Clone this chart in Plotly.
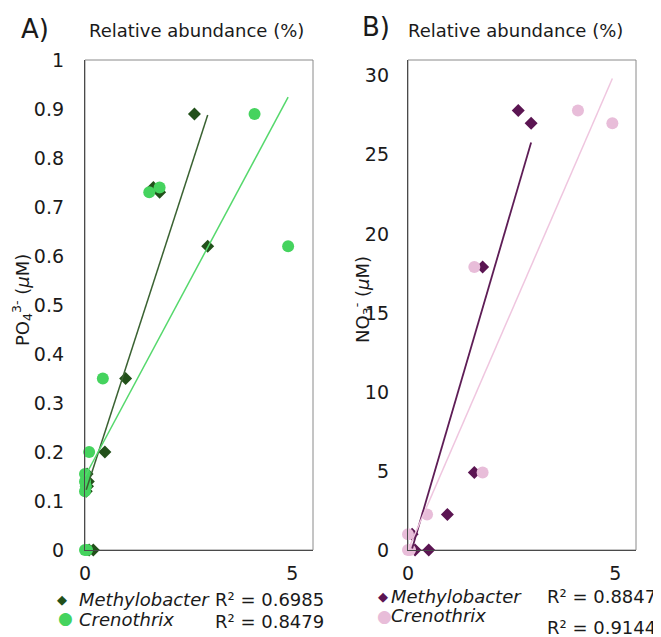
import plotly.graph_objects as go

# ---------------- data ----------------
# Panel A: phosphate vs relative abundance
po4_values = [0.89, 0.74, 0.73, 0.62, 0.35, 0.20, 0.155, 0.14, 0.13, 0.12, 0.0, 0.0]
a_methylobacter = [2.64, 1.65, 1.80, 2.96, 0.98, 0.48, 0.05, 0.08, 0.06, 0.03, 0.10, 0.20]
a_crenothrix = [4.09, 1.80, 1.55, 4.90, 0.43, 0.10, 0.00, 0.00, 0.02, 0.00, 0.00, 0.05]

# Panel B: nitrate vs relative abundance
no3_values = [27.8, 27.0, 17.9, 4.9, 2.25, 1.0, 0.0, 0.0]
b_methylobacter = [2.66, 2.97, 1.80, 1.60, 0.95, 0.10, 0.17, 0.50]
b_crenothrix = [4.10, 4.93, 1.60, 1.80, 0.46, 0.00, 0.00, 0.05]

# Linear trendlines (slope, intercept)
a_trend_methylobacter = [0.261, 0.115]
a_trend_crenothrix = [0.158, 0.150]
b_trend_methylobacter = [8.95, -0.80]
b_trend_crenothrix = [6.05, 0.00]

r2_labels_a = ["R² = 0.6985", "R² = 0.8479"]
r2_labels_b = ["R² = 0.8847", "R² = 0.9144"]
series_names = ["Methylobacter", "Crenothrix"]

x_tickvals = [0, 5]
x_ticktext = ["0", "5"]
a_tickvals = [0, 0.1, 0.2, 0.3, 0.4, 0.5, 0.6, 0.7, 0.8, 0.9, 1.0]
a_ticktext = ["0", "0.1", "0.2", "0.3", "0.4", "0.5", "0.6", "0.7", "0.8", "0.9", "1"]
b_tickvals = [0, 5, 10, 15, 20, 25, 30]
b_ticktext = ["0", "5", "10", "15", "20", "25", "30"]

# ---------------- styling ----------------
W, H = 661, 637
OFF = 8  # page body margin: figure origin sits 8px right/down of the viewport
FONT = "DejaVu Sans"
A_M_COLOR, A_M_LINE = "#22501a", "#3a6232"
A_C_COLOR, A_C_LINE = "#45d35e", "#55d86c"
B_M_COLOR, B_M_LINE = "#5b1552", "#5e1d56"
B_C_COLOR, B_C_LINE = "#e8bdd9", "#efc6df"


def px_x(x):
    return (x - OFF) / W


def px_y(y):
    return 1 - (y - OFF) / H


def trend_xy(xs, coef):
    x0, x1 = min(xs), max(xs)
    return [x0, x1], [coef[0] * x0 + coef[1], coef[0] * x1 + coef[1]]


fig = go.Figure()

# ---- Panel A ----
fig.add_trace(go.Scatter(x=a_methylobacter, y=po4_values, mode="markers",
                         marker=dict(symbol="diamond", size=10, color=A_M_COLOR),
                         cliponaxis=False, xaxis="x", yaxis="y", showlegend=False))
fig.add_trace(go.Scatter(x=a_crenothrix, y=po4_values, mode="markers",
                         marker=dict(symbol="circle", size=12, color=A_C_COLOR),
                         cliponaxis=False, xaxis="x", yaxis="y", showlegend=False))
tx, ty = trend_xy(a_methylobacter, a_trend_methylobacter)
fig.add_trace(go.Scatter(x=tx, y=ty, mode="lines", line=dict(color=A_M_LINE, width=1.5),
                         xaxis="x", yaxis="y", showlegend=False))
tx, ty = trend_xy(a_crenothrix, a_trend_crenothrix)
fig.add_trace(go.Scatter(x=tx, y=ty, mode="lines", line=dict(color=A_C_LINE, width=1.5),
                         xaxis="x", yaxis="y", showlegend=False))

# ---- Panel B ----
fig.add_trace(go.Scatter(x=b_methylobacter, y=no3_values, mode="markers",
                         marker=dict(symbol="diamond", size=10, color=B_M_COLOR),
                         cliponaxis=False, xaxis="x2", yaxis="y2", showlegend=False))
fig.add_trace(go.Scatter(x=b_crenothrix, y=no3_values, mode="markers",
                         marker=dict(symbol="circle", size=12, color=B_C_COLOR),
                         cliponaxis=False, xaxis="x2", yaxis="y2", showlegend=False))
tx, ty = trend_xy(b_methylobacter, b_trend_methylobacter)
fig.add_trace(go.Scatter(x=tx, y=ty, mode="lines", line=dict(color=B_M_LINE, width=1.8),
                         xaxis="x2", yaxis="y2", showlegend=False))
tx, ty = trend_xy(b_crenothrix, b_trend_crenothrix)
fig.add_trace(go.Scatter(x=tx, y=ty, mode="lines", line=dict(color=B_C_LINE, width=1.5),
                         xaxis="x2", yaxis="y2", showlegend=False))

axis_common = dict(showgrid=False, zeroline=False, showline=True, linecolor="#4a4a4a",
                   linewidth=1.3, ticks="", automargin=False,
                   tickfont=dict(family=FONT, size=19, color="#1a1a1a"))

ydom = [px_y(550), px_y(60)]
fig.update_layout(
    width=W, height=H,
    margin=dict(l=0, r=0, t=0, b=0, pad=0, autoexpand=False),
    paper_bgcolor="white", plot_bgcolor="white",
    font=dict(family=FONT, color="#1a1a1a"),
    xaxis=dict(domain=[px_x(85), px_x(313)], range=[0, 5.5], anchor="y",
               tickvals=x_tickvals, ticktext=x_ticktext, ticklabelstandoff=6, **axis_common),
    yaxis=dict(domain=ydom, range=[0, 1.0], anchor="x",
               tickvals=a_tickvals, ticktext=a_ticktext, ticklabelstandoff=16, **axis_common),
    xaxis2=dict(domain=[px_x(408), px_x(636)], range=[0, 5.5], anchor="y2",
                tickvals=x_tickvals, ticktext=x_ticktext, ticklabelstandoff=6, **axis_common),
    yaxis2=dict(domain=ydom, range=[0, 31], anchor="x2",
                tickvals=b_tickvals, ticktext=b_ticktext, ticklabelstandoff=14, **axis_common),
)

# frames
for xr, yr in [("x domain", "y domain"), ("x2 domain", "y2 domain")]:
    fig.add_shape(type="rect", xref=xr, yref=yr, x0=0, x1=1, y0=0, y1=1,
                  line=dict(color="#8a8a8a", width=1), layer="below")

ann = []


def text(x, y, s, size, xanchor="left", color="#1a1a1a", angle=0):
    ann.append(dict(x=px_x(x), y=px_y(y), xref="paper", yref="paper", text=s,
                    showarrow=False, xanchor=xanchor, yanchor="middle", textangle=angle,
                    font=dict(family=FONT, size=size, color=color)))


# panel labels and top titles
text(19, 29, "A)", 26)
text(87, 30, "Relative abundance (%)", 18)
text(360, 27, "B)", 26)
text(406, 30, "Relative abundance (%)", 18)

# y-axis titles
text(22, 300, "PO<sub>4</sub><sup>3-</sup> (<i>μ</i>M)", 18, xanchor="center", angle=-90)
text(362, 300, "NO<sub>3</sub><sup>-</sup> (<i>μ</i>M)", 18, xanchor="center", angle=-90)

# legends panel A
text(62, 599, "◆", 13, xanchor="center", color=A_M_COLOR)
text(65, 618, "●", 17, xanchor="center", color=A_C_COLOR)
text(77, 599, "<i>" + series_names[0] + "</i>", 18)
text(77, 619, "<i>" + series_names[1] + "</i>", 18)
text(213, 599, r2_labels_a[0], 18)
text(213, 621, r2_labels_a[1], 18)

# legends panel B
text(383, 596, "◆", 13, xanchor="center", color=B_M_COLOR)
text(384, 616, "●", 17, xanchor="center", color=B_C_COLOR)
text(389, 596, "<i>" + series_names[0] + "</i>", 18)
text(389, 615, "<i>" + series_names[1] + "</i>", 18)
text(545, 596, r2_labels_b[0], 18)
text(545, 627, r2_labels_b[1], 18)

fig.update_layout(annotations=ann)

fig.write_html("out.html")
